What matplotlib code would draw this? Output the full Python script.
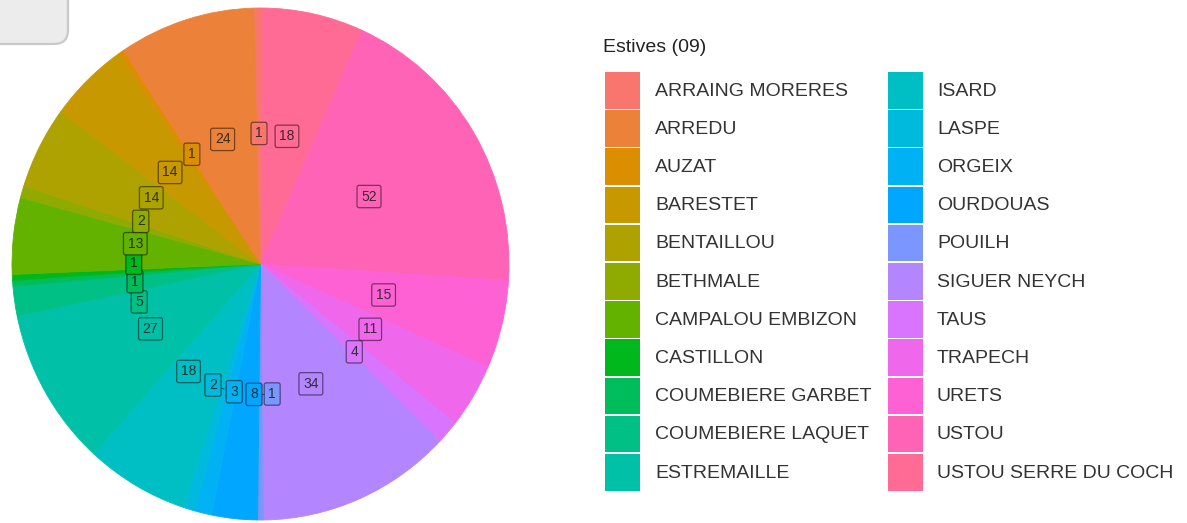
import numpy as np
import matplotlib
matplotlib.use("Agg")
import matplotlib.pyplot as plt
from matplotlib.patches import Rectangle, FancyBboxPatch

plt.rcParams['font.family'] = ['Liberation Sans', 'DejaVu Sans']

# estives (niveaux du facteur, ordre alphabetique) et effectifs
estives = ['ARRAING MORERES', 'ARREDU', 'AUZAT', 'BARESTET', 'BENTAILLOU',
           'BETHMALE', 'CAMPALOU EMBIZON', 'CASTILLON', 'COUMEBIERE GARBET',
           'COUMEBIERE LAQUET', 'ESTREMAILLE', 'ISARD', 'LASPE', 'ORGEIX',
           'OURDOUAS', 'POUILH', 'SIGUER NEYCH', 'TAUS', 'TRAPECH', 'URETS',
           'USTOU', 'USTOU SERRE DU COCH']
effectifs = [1, 24, 1, 14, 14, 2, 13, 1, 1, 5, 27, 18, 2, 3, 8, 1, 34, 4, 11,
             15, 52, 18]
titre_legende = 'Estives (09)'


def hcl_hex(h, c=100.0, l=65.0):
    # meme conversion que grDevices::hcl (ggplot hue_pal)
    h = np.deg2rad(h)
    U, V = c * np.cos(h), c * np.sin(h)
    Y = 100.0 * ((l + 16) / 116) ** 3
    u = U / (13 * l) + 0.1978398
    v = V / (13 * l) + 0.4683363
    X = 9.0 * Y * u / (4 * v)
    Z = -X / 3 - 5 * Y + 3 * Y / v
    X, Y, Z = X / 100, Y / 100, Z / 100
    rgb = [3.240479 * X - 1.537150 * Y - 0.498535 * Z,
           -0.969256 * X + 1.875992 * Y + 0.041556 * Z,
           0.055648 * X - 0.204043 * Y + 1.057311 * Z]
    out = []
    for t in rgb:
        t = 12.92 * t if t <= 0.0031308 else 1.055 * t ** (1 / 2.4) - 0.055
        out.append(min(max(t, 0), 1))
    return tuple(out)


n = len(estives)
hues = np.linspace(15, 375, n + 1)[:-1]
couleurs = [hcl_hex(h) for h in hues]

W, H = 1187, 523
fig = plt.figure(figsize=(W / 100, H / 100), dpi=100)

# --- camembert (ordre inverse, sens horaire depuis midi, comme ggplot)
ax = fig.add_axes([12 / W, 3 / H, 497 / W, 512 / H])
vals = effectifs[::-1]
cols = couleurs[::-1]
ax.pie(vals, colors=cols, startangle=90, counterclock=False, radius=1,
       wedgeprops=dict(linewidth=0.6, antialiased=True))
for w, c in zip(ax.patches, cols):
    w.set_edgecolor(c)
ax.set_aspect('auto')
ax.set_xlim(-1, 1)
ax.set_ylim(-1, 1)
ax.axis('off')

# positions des etiquettes (centre de chaque part, anneau r=0.51)
tot = float(sum(vals))
cum = np.cumsum(vals)
theta0 = (cum - np.array(vals) / 2) / tot * 360.0
theta = theta0.copy()
r_lab = 0.51
r_px = r_lab * 250
larg = np.array([14 + 8 * len(str(v)) for v in vals], dtype=float)
haut = 21.0
ordre = np.argsort(theta0)
for it in range(400):
    for k in range(n):
        i = ordre[k]
        j = ordre[(k + 1) % n]
        d = theta[j] - theta[i]
        if k == n - 1:
            d += 360
        m = np.deg2rad((theta[i] + theta[j] + (360 if k == n - 1 else 0)) / 2)
        need = ((larg[i] + larg[j]) / 2 * abs(np.cos(m)) + haut * abs(np.sin(m))) * 0.85
        need = np.rad2deg(need / r_px)
        if d < need:
            p = (need - d) / 2
            theta[i] -= p
            theta[j] += p
    theta += 0.03 * (theta0 - theta)

for v, c, t0, t in zip(vals, cols, theta0, theta):
    a0, a = np.deg2rad(t0), np.deg2rad(t)
    x0, y0 = r_lab * np.sin(a0), r_lab * np.cos(a0)
    x, y = r_lab * np.sin(a), r_lab * np.cos(a)
    if abs(t - t0) > 3:
        ax.plot([x0, x], [y0, y], color=(0, 0, 0, 0.5), lw=0.7, zorder=3)
    ax.text(x, y, str(v), ha='center', va='center', fontsize=10,
            color=(0.1, 0.1, 0.1, 0.85), zorder=4,
            bbox=dict(boxstyle='round,pad=0.3,rounding_size=0.15', fc=c,
                      ec=(0, 0, 0, 0.5), lw=0.9))

# --- legende et cadre gris (coordonnees en pixels)
ov = fig.add_axes([0, 0, 1, 1], facecolor='none')
ov.set_xlim(0, W)
ov.set_ylim(H, 0)
ov.axis('off')

ov.add_patch(FancyBboxPatch((-30, -30), 98, 74,
                            boxstyle='round,pad=0,rounding_size=14',
                            fc='#ECECEC', ec='#C9C9C9', lw=1.6))

ov.text(603, 48, titre_legende, fontsize=14, ha='left', va='center',
        color='#222222')
pas = 38.2
haut_cle = 36.5
nrow = 11
for k, (nom, c) in enumerate(zip(estives, couleurs)):
    col, row = divmod(k, nrow)
    xk = [605, 888][col]
    xt = [655, 937][col]
    y_top = 72 + row * pas
    ov.add_patch(Rectangle((xk, y_top), 35, haut_cle, fc=c, ec='none'))
    ov.text(xt, y_top + pas / 2, nom, fontsize=14, ha='left', va='center',
            color='#333333')

fig.savefig('out.png', dpi=100)
